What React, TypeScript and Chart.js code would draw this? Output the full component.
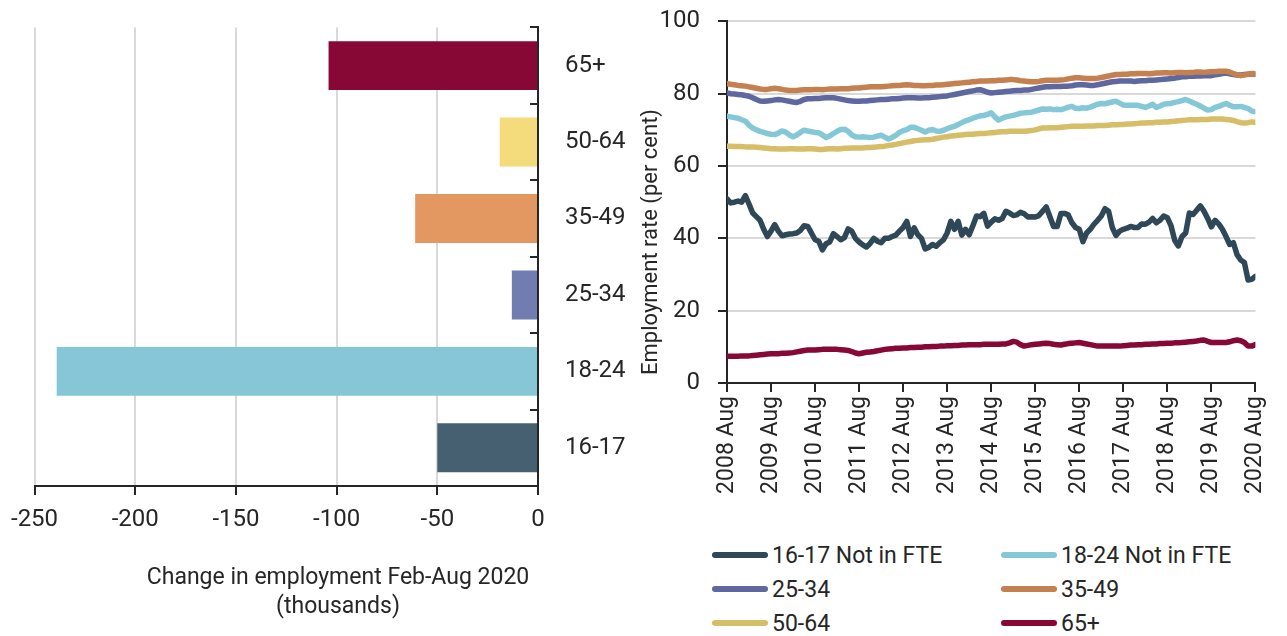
import React, { useEffect, useRef } from "react";
import { Chart, registerables } from "chart.js";

Chart.register(...registerables);

const FONT = 'Roboto, "DejaVu Sans Condensed", sans-serif';
const FS = 23;
const TEXT = "#262626";
const GRID = "#d9d9d9";

// ---- Left chart: change in employment ----
const AGE_GROUPS = ["65+", "50-64", "35-49", "25-34", "18-24", "16-17"];
const CHANGE_VALUES = [-104, -19, -61, -13, -239, -50];
const BAR_COLORS = ["#870835", "#f4dc7c", "#e39862", "#717db0", "#86c6d6", "#466072"];
const BAR_AXIS_TITLE = ["Change in employment Feb-Aug 2020", "(thousands)"];

// ---- Right chart: employment rate, monthly 2008 Aug - 2020 Aug ----
const YEAR_TICKS = [
  "2008 Aug", "2009 Aug", "2010 Aug", "2011 Aug", "2012 Aug", "2013 Aug", "2014 Aug",
  "2015 Aug", "2016 Aug", "2017 Aug", "2018 Aug", "2019 Aug", "2020 Aug",
];
const MONTHS_PER_TICK = 12;

const S_16_17 = [
  50.9, 49.8, 50.0, 50.3, 50.0, 51.8, 49.5, 47.0, 46.0, 45.0, 42.5, 40.5, 42.0, 43.8, 42.0, 40.7,
  41.0, 41.2, 41.3, 41.5, 42.2, 43.5, 43.3, 41.5, 39.6, 39.2, 36.8, 38.5, 39.0, 41.3, 40.5, 39.6,
  40.2, 42.6, 42.0, 40.0, 39.0, 38.2, 37.6, 38.6, 40.0, 39.2, 38.8, 40.0, 40.0, 40.5, 40.9, 42.0,
  43.0, 44.7, 40.5, 42.9, 41.0, 40.0, 37.1, 37.5, 38.3, 37.8, 38.8, 39.6, 41.5, 44.7, 42.5, 44.7,
  40.9, 42.5, 41.0, 43.5, 46.2, 46.0, 46.9, 43.4, 44.5, 45.4, 45.0, 45.5, 47.5, 47.0, 46.3, 46.5,
  47.2, 46.8, 45.9, 46.0, 45.9, 46.3, 47.5, 48.7, 46.0, 43.3, 43.3, 46.9, 46.9, 46.5, 44.3, 43.0,
  42.5, 39.1, 41.5, 42.5, 43.9, 45.0, 46.2, 48.2, 47.5, 43.0, 40.8, 42.0, 42.5, 42.8, 43.3, 43.0,
  43.0, 44.0, 43.9, 44.5, 45.5, 44.3, 45.0, 46.2, 45.7, 43.5, 39.5, 37.9, 40.5, 41.5, 47.0, 46.6,
  47.8, 49.0, 47.5, 45.5, 43.2, 45.0, 44.0, 42.5, 40.5, 38.3, 38.8, 35.5, 34.0, 33.3, 28.5, 28.7,
  29.5,
];
const S_18_24 = [
  73.8, 73.6, 73.4, 73.2, 72.8, 72.4, 71.3, 70.5, 70.0, 69.6, 69.3, 69.0, 68.8, 68.7, 69.1, 69.7,
  69.4, 68.6, 68.1, 68.6, 69.3, 69.9, 69.7, 69.5, 69.3, 69.2, 68.6, 67.9, 68.3, 69.0, 69.6, 70.1,
  70.2, 69.6, 68.6, 68.1, 68.0, 68.1, 68.0, 67.9, 68.0, 68.3, 68.5, 68.0, 67.5, 67.9, 68.5, 69.3,
  69.8, 70.1, 70.7, 70.7, 70.3, 69.9, 69.4, 69.9, 70.1, 69.7, 69.6, 69.9, 70.3, 70.7, 71.0, 71.5,
  72.0, 72.5, 72.8, 73.2, 73.6, 73.9, 74.0, 74.3, 74.7, 73.6, 72.7, 73.2, 73.6, 73.8, 74.0, 74.3,
  74.6, 74.7, 74.8, 74.9, 75.2, 75.5, 75.8, 75.7, 75.8, 75.6, 75.7, 75.6, 75.9, 76.3, 76.5, 76.0,
  75.9, 76.1, 76.0, 76.3, 76.7, 77.1, 77.3, 77.2, 77.5, 77.7, 77.9, 77.4, 76.9, 76.8, 76.8, 76.8,
  76.8, 76.5, 76.2, 76.6, 77.1, 76.2, 76.6, 77.1, 77.2, 77.3, 77.6, 77.8, 78.1, 78.4, 78.0, 77.5,
  77.1, 76.6, 76.0, 75.5, 75.6, 76.2, 76.5, 76.9, 77.3, 76.8, 76.4, 76.4, 76.5, 76.2, 75.9, 75.2,
  75.0,
];
const S_25_34 = [
  80.2, 80.0, 79.9, 79.8, 79.7, 79.5, 79.3, 78.9, 78.4, 78.0, 77.9, 78.0, 78.1, 78.3, 78.4, 78.3,
  78.1, 77.9, 77.7, 77.6, 77.9, 78.4, 78.6, 78.6, 78.7, 78.7, 78.8, 78.9, 78.9, 78.9, 78.7, 78.5,
  78.3, 78.1, 78.0, 77.9, 77.9, 78.0, 78.0, 78.1, 78.2, 78.3, 78.4, 78.4, 78.5, 78.6, 78.6, 78.7,
  78.8, 78.9, 78.9, 78.9, 78.8, 78.8, 78.9, 78.9, 79.0, 79.1, 79.2, 79.3, 79.4, 79.6, 79.8, 80.0,
  80.2, 80.4, 80.6, 80.8, 81.0, 81.1, 80.8, 80.4, 80.2, 80.3, 80.4, 80.5, 80.6, 80.7, 80.8, 80.9,
  80.9, 81.0, 81.0, 81.2, 81.4, 81.6, 81.8, 81.9, 81.9, 82.0, 82.0, 82.0, 82.1, 82.1, 82.2, 82.4,
  82.5, 82.5, 82.4, 82.3, 82.3, 82.5, 82.7, 82.9, 83.1, 83.3, 83.4, 83.5, 83.5, 83.5, 83.5, 83.4,
  83.5, 83.6, 83.6, 83.7, 83.7, 83.8, 83.9, 84.0, 84.1, 84.2, 84.3, 84.5, 84.7, 84.7, 84.8, 84.8,
  84.9, 84.9, 85.0, 85.0, 85.0, 85.2, 85.4, 85.6, 85.7, 85.5, 85.3, 85.2, 85.2, 85.3, 85.4, 85.5,
  85.4,
];
const S_35_49 = [
  82.8, 82.6, 82.5, 82.3, 82.2, 82.1, 81.9, 81.7, 81.5, 81.3, 81.2, 81.2, 81.4, 81.5, 81.4, 81.2,
  81.0, 80.9, 80.9, 80.9, 81.0, 81.1, 81.1, 81.1, 81.2, 81.2, 81.1, 81.2, 81.3, 81.3, 81.3, 81.4,
  81.4, 81.4, 81.5, 81.6, 81.6, 81.7, 81.8, 81.9, 81.9, 81.9, 81.9, 82.0, 82.1, 82.2, 82.3, 82.3,
  82.4, 82.5, 82.4, 82.3, 82.3, 82.2, 82.2, 82.3, 82.3, 82.4, 82.4, 82.5, 82.6, 82.7, 82.8, 82.9,
  83.0, 83.1, 83.2, 83.3, 83.4, 83.5, 83.5, 83.5, 83.6, 83.6, 83.7, 83.7, 83.8, 83.9, 83.9, 83.8,
  83.6, 83.5, 83.4, 83.3, 83.3, 83.4, 83.6, 83.7, 83.7, 83.7, 83.7, 83.8, 83.9, 84.1, 84.3, 84.4,
  84.4, 84.3, 84.2, 84.2, 84.2, 84.3, 84.5, 84.7, 84.9, 85.1, 85.3, 85.3, 85.4, 85.4, 85.5, 85.5,
  85.6, 85.6, 85.6, 85.5, 85.6, 85.7, 85.7, 85.8, 85.8, 85.7, 85.8, 85.9, 85.9, 85.8, 85.9, 85.9,
  86.0, 86.0, 85.9, 86.0, 86.1, 86.1, 86.2, 86.2, 86.2, 86.0, 85.6, 85.2, 85.0, 85.2, 85.4, 85.6,
  85.5,
];
const S_50_64 = [
  65.5, 65.5, 65.4, 65.4, 65.4, 65.3, 65.3, 65.3, 65.2, 65.1, 65.0, 64.9, 64.8, 64.8, 64.7, 64.7,
  64.7, 64.8, 64.8, 64.7, 64.7, 64.7, 64.8, 64.8, 64.7, 64.6, 64.6, 64.7, 64.8, 64.8, 64.7, 64.8,
  64.9, 64.9, 65.0, 65.0, 65.0, 65.0, 65.1, 65.1, 65.2, 65.3, 65.4, 65.5, 65.7, 65.8, 66.0, 66.2,
  66.4, 66.6, 66.8, 67.0, 67.1, 67.2, 67.3, 67.3, 67.4, 67.6, 67.8, 68.0, 68.1, 68.3, 68.4, 68.5,
  68.6, 68.7, 68.8, 68.8, 68.9, 69.0, 69.0, 69.1, 69.2, 69.3, 69.4, 69.5, 69.5, 69.6, 69.6, 69.6,
  69.6, 69.6, 69.7, 69.8, 70.0, 70.3, 70.5, 70.5, 70.6, 70.6, 70.6, 70.7, 70.8, 70.9, 71.0, 71.0,
  71.0, 71.0, 71.1, 71.1, 71.1, 71.2, 71.2, 71.2, 71.3, 71.4, 71.4, 71.5, 71.5, 71.6, 71.6, 71.7,
  71.8, 71.9, 71.9, 72.0, 72.0, 72.1, 72.1, 72.2, 72.2, 72.3, 72.4, 72.5, 72.6, 72.7, 72.8, 72.8,
  72.8, 72.9, 72.9, 72.9, 73.0, 73.0, 73.0, 73.0, 72.9, 72.8, 72.6, 72.3, 72.0, 71.9, 72.0, 72.2,
  72.1,
];
const S_65_PLUS = [
  7.4, 7.4, 7.4, 7.4, 7.5, 7.5, 7.5, 7.6, 7.7, 7.8, 7.9, 8.0, 8.1, 8.1, 8.1, 8.2,
  8.2, 8.3, 8.4, 8.6, 8.8, 9.0, 9.1, 9.1, 9.1, 9.2, 9.3, 9.3, 9.3, 9.3, 9.3, 9.2,
  9.1, 9.0, 8.7, 8.3, 8.1, 8.3, 8.5, 8.6, 8.7, 8.9, 9.1, 9.3, 9.4, 9.5, 9.6, 9.6,
  9.7, 9.7, 9.8, 9.8, 9.9, 9.9, 10.0, 10.0, 10.1, 10.1, 10.2, 10.2, 10.3, 10.3, 10.4, 10.4,
  10.5, 10.5, 10.6, 10.6, 10.6, 10.6, 10.7, 10.7, 10.7, 10.7, 10.7, 10.8, 10.8, 11.1, 11.5, 11.3,
  10.6, 10.2, 10.4, 10.6, 10.7, 10.8, 10.9, 11.0, 10.9, 10.7, 10.6, 10.5, 10.7, 10.9, 11.0, 11.1,
  11.2, 11.0, 10.8, 10.6, 10.4, 10.2, 10.2, 10.2, 10.2, 10.2, 10.2, 10.2, 10.3, 10.4, 10.5, 10.5,
  10.6, 10.6, 10.7, 10.7, 10.8, 10.8, 10.9, 10.9, 11.0, 11.0, 11.1, 11.1, 11.2, 11.3, 11.4, 11.5,
  11.6, 11.8, 11.9, 11.5, 11.2, 11.2, 11.2, 11.2, 11.2, 11.4, 11.7, 11.9, 11.7, 11.2, 10.2, 10.2,
  10.6,
];

const SERIES_NAMES = ["16-17 Not in FTE", "18-24 Not in FTE", "25-34", "35-49", "50-64", "65+"];
const SERIES_VALUES = [S_16_17, S_18_24, S_25_34, S_35_49, S_50_64, S_65_PLUS];
const LINE_COLORS = ["#2f4858", "#84c8d8", "#5f67a0", "#c4804e", "#d6bd68", "#870835"];
const Y_TITLE = "Employment rate (per cent)";

// layout offsets: the canvases are shifted up so the plot areas sit where the reference has them
const LEFT_SHIFT = 14;
const RIGHT_SHIFT = 11;

const barDecor = {
  id: "barDecor",
  afterDraw(chart: any) {
    const { ctx, scales } = chart;
    const y = scales.y;
    const n = AGE_GROUPS.length;
    ctx.save();
    ctx.strokeStyle = TEXT;
    ctx.lineWidth = 2;
    for (let i = 0; i <= n; i++) {
      const yy = Math.round(y.top + (i * (y.bottom - y.top)) / n);
      ctx.beginPath();
      ctx.moveTo(y.left - 8, yy);
      ctx.lineTo(y.left, yy);
      ctx.stroke();
    }
    ctx.fillStyle = TEXT;
    ctx.font = `${FS}px ${FONT}`;
    ctx.textAlign = "center";
    ctx.textBaseline = "middle";
    ctx.fillText(BAR_AXIS_TITLE[0], 338, 578 + LEFT_SHIFT);
    ctx.fillText(BAR_AXIS_TITLE[1], 338, 607 + LEFT_SHIFT);
    ctx.restore();
  },
};

const lineDecor = {
  id: "lineDecor",
  afterDraw(chart: any) {
    const { ctx } = chart;
    ctx.save();
    ctx.fillStyle = TEXT;
    ctx.font = `22px ${FONT}`;
    ctx.textAlign = "center";
    ctx.textBaseline = "middle";
    ctx.translate(11, 242 + RIGHT_SHIFT);
    ctx.rotate(-Math.PI / 2);
    ctx.fillText(Y_TITLE, 0, 0);
    ctx.restore();
  },
};

function BarChart() {
  const ref = useRef<HTMLCanvasElement>(null);
  useEffect(() => {
    const chart = new Chart(ref.current!, {
      type: "bar",
      data: {
        labels: AGE_GROUPS,
        datasets: [
          {
            data: CHANGE_VALUES,
            backgroundColor: BAR_COLORS,
            categoryPercentage: 1,
            barPercentage: 0.64,
          },
        ],
      },
      options: {
        indexAxis: "y",
        responsive: false,
        animation: false,
        layout: { padding: { left: 32, top: 12, right: 0, bottom: 0 } },
        plugins: { legend: { display: false }, tooltip: { enabled: false } },
        scales: {
          x: {
            type: "linear",
            min: -250,
            max: 0,
            ticks: { stepSize: 50, color: TEXT, font: { size: 24, family: FONT }, padding: 11 },
            grid: { color: GRID, lineWidth: 2, tickColor: TEXT, tickLength: 9 },
            border: { display: true, color: TEXT, width: 2 },
            afterFit: (s: any) => {
              s.height = 150;
            },
          },
          y: {
            position: "right",
            ticks: { color: TEXT, font: { size: 24, family: FONT }, padding: 27 },
            grid: { display: false, drawTicks: false },
            border: { display: true, color: TEXT, width: 2 },
            afterFit: (s: any) => {
              s.width = 102;
            },
          },
        },
      },
      plugins: [barDecor],
    } as any);
    return () => chart.destroy();
  }, []);
  return <canvas ref={ref} width={640} height={636 + LEFT_SHIFT} style={{ display: "block" }} />;
}

function LineChart() {
  const ref = useRef<HTMLCanvasElement>(null);
  useEffect(() => {
    const chart = new Chart(ref.current!, {
      type: "line",
      data: {
        datasets: SERIES_NAMES.map((name, k) => ({
          label: name,
          data: SERIES_VALUES[k].map((v, i) => ({ x: i, y: v })),
          borderColor: LINE_COLORS[k],
          backgroundColor: LINE_COLORS[k],
          borderWidth: 5.5,
          pointRadius: 0,
          tension: 0,
          borderCapStyle: "round",
          borderJoinStyle: "round",
          order: SERIES_NAMES.length - k,
        })),
      },
      options: {
        responsive: false,
        animation: false,
        layout: { padding: { left: 0, top: 11, right: 25, bottom: 0 } },
        plugins: { legend: { display: false }, tooltip: { enabled: false } },
        scales: {
          x: {
            type: "linear",
            min: 0,
            max: (YEAR_TICKS.length - 1) * MONTHS_PER_TICK,
            ticks: {
              stepSize: MONTHS_PER_TICK,
              autoSkip: false,
              minRotation: 90,
              maxRotation: 90,
              padding: 4,
              color: TEXT,
              font: { size: FS, family: FONT },
              callback: (v: any) => YEAR_TICKS[Math.round(v / MONTHS_PER_TICK)],
            },
            grid: { drawOnChartArea: false, tickColor: TEXT, tickLength: 9, lineWidth: 2 },
            border: { display: true, color: TEXT, width: 2 },
            afterFit: (s: any) => {
              s.height = 137;
            },
          },
          y: {
            min: 0,
            max: 100,
            ticks: { stepSize: 20, color: TEXT, font: { size: 24, family: FONT }, padding: 18 },
            grid: { color: GRID, lineWidth: 2, tickColor: TEXT, tickLength: 9 },
            border: { display: true, color: TEXT, width: 2 },
            afterFit: (s: any) => {
              s.width = 87;
            },
          },
        },
      },
      plugins: [lineDecor],
    } as any);
    return () => chart.destroy();
  }, []);
  return <canvas ref={ref} width={647} height={520 + RIGHT_SHIFT} style={{ display: "block" }} />;
}

function Legend() {
  const cols = [712, 1001];
  const rows = [555, 589, 623];
  return (
    <>
      {SERIES_NAMES.map((name, k) => {
        const left = cols[k % 2];
        const top = rows[Math.floor(k / 2)];
        return (
          <div
            key={name}
            style={{
              position: "absolute",
              left,
              top: top - 16,
              height: 32,
              display: "flex",
              alignItems: "center",
              fontFamily: FONT,
              fontSize: FS,
              color: TEXT,
              whiteSpace: "nowrap",
            }}
          >
            <span
              style={{
                display: "inline-block",
                width: 56,
                height: 6,
                borderRadius: 3,
                background: LINE_COLORS[k],
                marginRight: 4,
              }}
            />
            <span>{name}</span>
          </div>
        );
      })}
    </>
  );
}

export default function App() {
  return (
    <div
      style={{
        position: "fixed",
        left: 0,
        top: 0,
        width: 1287,
        height: 636,
        background: "#fff",
        overflow: "hidden",
      }}
    >
      <div style={{ position: "absolute", left: 0, top: -LEFT_SHIFT }}>
        <BarChart />
      </div>
      <div style={{ position: "absolute", left: 640, top: -RIGHT_SHIFT }}>
        <LineChart />
      </div>
      <Legend />
    </div>
  );
}
